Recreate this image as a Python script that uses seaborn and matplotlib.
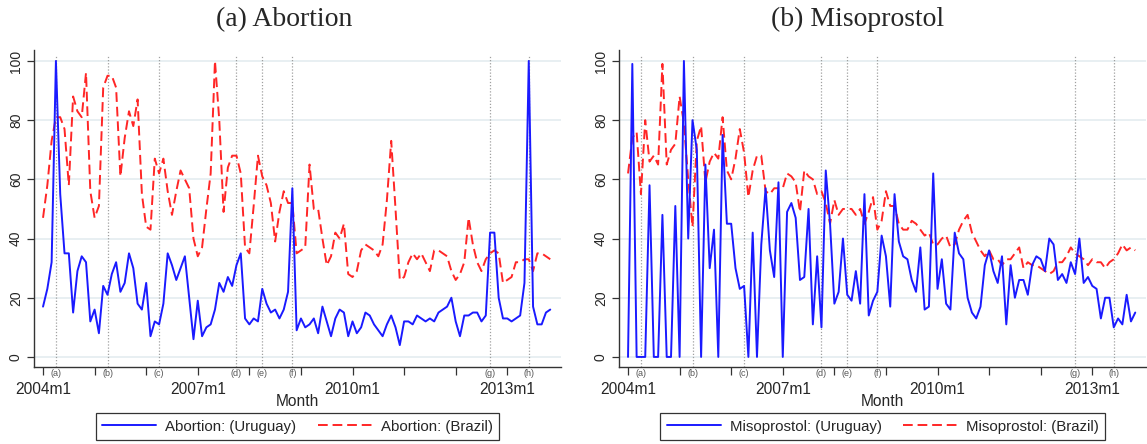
import numpy as np
import pandas as pd
import matplotlib
matplotlib.use("Agg")
import matplotlib.pyplot as plt
import matplotlib.transforms as mtransforms
import seaborn as sns
from matplotlib.ticker import FixedLocator, FixedFormatter

# monthly series 2004m1 .. 2013m11
abortion_uy = [17, 23, 32, 100, 55, 35, 35, 15, 29, 34, 32, 12, 16, 8, 24, 21, 28, 32, 22, 25,
               35, 30, 18, 16, 25, 7, 12, 11, 18, 35, 31, 26, 30, 34, 20, 6, 19, 7, 10, 11,
               16, 25, 22, 27, 24, 31, 35, 13, 11, 13, 12, 23, 18, 15, 16, 13, 16, 22, 57, 9,
               13, 10, 11, 13, 8, 17, 12, 7, 13, 16, 15, 7, 12, 8, 10, 15, 14, 11, 9, 7,
               11, 14, 10, 4, 12, 12, 11, 14, 13, 12, 13, 12, 15, 16, 17, 20, 12, 7, 14, 14,
               15, 15, 12, 14, 42, 42, 20, 13, 13, 12, 13, 14, 25, 100, 17, 11, 11, 15, 16]
abortion_br = [47, 58, 73, 81, 81, 77, 58, 88, 83, 81, 96, 56, 47, 51, 91, 95, 95, 91, 61, 74,
               83, 78, 87, 55, 44, 43, 67, 62, 67, 56, 48, 56, 63, 60, 57, 40, 34, 37, 50, 62,
               100, 80, 49, 64, 68, 68, 62, 37, 35, 51, 68, 61, 58, 52, 39, 49, 56, 52, 52, 35,
               36, 37, 65, 50, 50, 40, 31, 34, 42, 40, 45, 28, 27, 29, 36, 38, 37, 36, 34, 38,
               53, 73, 50, 26, 27, 32, 35, 33, 35, 32, 29, 36, 36, 35, 34, 29, 26, 28, 32, 47,
               38, 32, 29, 33, 35, 36, 35, 25, 26, 27, 32, 32, 33, 33, 29, 35, 35, 34, 33]
miso_uy = [0, 99, 0, 0, 0, 58, 0, 0, 48, 0, 0, 51, 0, 100, 40, 80, 70, 0, 65, 30,
           43, 0, 75, 45, 45, 30, 23, 24, 0, 42, 0, 38, 57, 36, 27, 59, 0, 49, 52, 47,
           26, 27, 50, 11, 34, 10, 63, 45, 18, 22, 40, 21, 19, 29, 18, 55, 14, 19, 22, 41,
           34, 17, 55, 39, 34, 33, 26, 22, 37, 16, 17, 62, 23, 33, 18, 16, 42, 35, 33, 20,
           15, 13, 17, 31, 36, 29, 25, 34, 11, 31, 20, 26, 26, 21, 31, 34, 33, 29, 40, 38,
           26, 28, 25, 32, 28, 40, 25, 27, 24, 23, 13, 20, 20, 10, 13, 11, 21, 12, 15]
miso_br = [62, 74, 76, 55, 80, 66, 68, 65, 99, 65, 70, 72, 88, 79, 60, 44, 73, 78, 59, 66,
           69, 67, 81, 63, 60, 67, 77, 69, 54, 63, 68, 68, 56, 55, 57, 57, 57, 62, 61, 59,
           49, 63, 61, 60, 55, 56, 52, 45, 53, 48, 50, 50, 50, 48, 50, 45, 49, 54, 43, 46,
           56, 51, 51, 45, 43, 43, 46, 45, 43, 41, 42, 38, 38, 40, 41, 37, 38, 43, 46, 48,
           42, 39, 36, 34, 36, 33, 33, 31, 33, 33, 35, 37, 30, 32, 31, 31, 30, 29, 28, 29,
           32, 32, 34, 37, 35, 34, 33, 31, 33, 32, 32, 30, 32, 33, 35, 38, 36, 37, 36]

month_ticks = [0, 36, 72, 108]
month_labels = ["2004m1", "2007m1", "2010m1", "2013m1"]
year_ticks = [12, 24, 48, 60, 84, 96]
event_months = [3, 15, 27, 45, 51, 58, 104, 113]
event_labels = ["(a)", "(b)", "(c)", "(d)", "(e)", "(f)", "(g)", "(h)"]

panels = [
    ("(a) Abortion", "Abortion", abortion_uy, abortion_br),
    ("(b) Misoprostol", "Misoprostol", miso_uy, miso_br),
]

sns.set_style("white")
plt.rcParams["font.family"] = ["Liberation Sans", "DejaVu Sans"]

fig = plt.figure(figsize=(11.47, 4.44), dpi=100)
lefts = [34 / 1147, 619 / 1147]
title_x = [0.474, 0.452]  # captions sit centred on each half of the figure

for left, tx, (title, name, uy, br) in zip(lefts, title_x, panels):
    ax = fig.add_axes([left, 77 / 444, 527 / 1147, 317 / 444])
    month = np.arange(len(uy))
    df = pd.DataFrame({"month": month, "uy": uy, "br": br})

    # light horizontal grid + event lines
    for v in range(0, 101, 20):
        ax.axhline(v, color="#e6eef1", lw=1.3, zorder=0)
    for m in event_months:
        ax.axvline(m, ymax=0.985, color="#a0a0a0", lw=0.9, ls=(0, (1, 1.5)), zorder=1)

    sns.lineplot(data=df, x="month", y="uy", color="#1a1aff", lw=1.4,
                 label=f"{name}: (Uruguay)", ax=ax, zorder=3)
    sns.lineplot(data=df, x="month", y="br", color="#ff2626", lw=1.4, linestyle="--",
                 label=f"{name}: (Brazil)", ax=ax, zorder=2)
    ax.lines[-1].set_dashes((5, 2.5))

    ax.set_xlim(-2.1, 120.5)
    ax.set_ylim(-3.4, 103.7)
    sns.despine(ax=ax)
    for s in ("left", "bottom"):
        ax.spines[s].set_color("#333333")
        ax.spines[s].set_linewidth(1.0)

    ax.set_yticks(range(0, 101, 20))
    ax.set_yticklabels([str(v) for v in range(0, 101, 20)], rotation=90, va="center",
                       fontsize=10)
    ax.tick_params(axis="y", length=5, width=0.9, color="#333333", pad=3, left=True)

    ax.xaxis.set_major_locator(FixedLocator(month_ticks))
    ax.xaxis.set_major_formatter(FixedFormatter(month_labels))
    ax.xaxis.set_minor_locator(FixedLocator(year_ticks))
    ax.tick_params(axis="x", which="major", length=6, width=0.9, color="#333333",
                   labelsize=11.2, pad=5, bottom=True)
    ax.tick_params(axis="x", which="minor", length=6, width=0.9, color="#333333",
                   bottom=True)

    # event labels just under the axis
    trans = mtransforms.blended_transform_factory(ax.transData, ax.transAxes)
    for m, lab in zip(event_months, event_labels):
        ax.text(m, -0.022, lab, transform=trans, ha="center", va="center",
                fontsize=6.5, color="#555555")

    ax.set_xlabel("Month", fontsize=11.2, labelpad=-2.5)
    ax.set_ylabel("")
    ax.set_title(title, family="Liberation Serif", fontsize=20, pad=17, x=tx)

    handles, labels = ax.get_legend_handles_labels()
    leg = ax.legend(handles, labels, loc="upper center", bbox_to_anchor=(0.5, -0.145),
                    borderaxespad=0, ncol=2, frameon=True, fancybox=False,
                    edgecolor="black", fontsize=10.8, handlelength=3.6,
                    handletextpad=0.6, columnspacing=1.4, borderpad=0.45)
    leg.get_frame().set_linewidth(0.9)

fig.savefig("out.png", dpi=100)
